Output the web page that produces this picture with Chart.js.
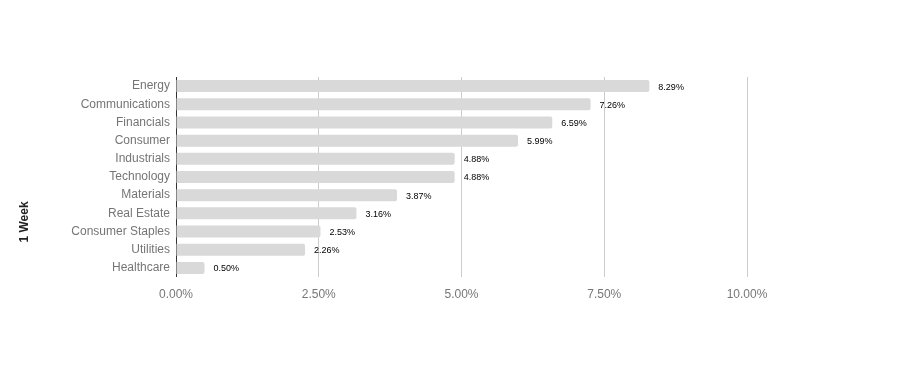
<!DOCTYPE html>
<html>
<head>
<meta charset="utf-8">
<script src="https://cdn.jsdelivr.net/npm/chart.js@4"></script>
<style>
  body { margin: 0; background: #fff; }
  #wrap { width: 924px; height: 391px; }
</style>
</head>
<body>
<div id="wrap"><canvas id="sectorChart" width="924" height="391"></canvas></div>
<script>
const sectors = ['Energy', 'Communications', 'Financials', 'Consumer', 'Industrials', 'Technology', 'Materials', 'Real Estate', 'Consumer Staples', 'Utilities', 'Healthcare'];
const weekReturns = [8.29, 7.26, 6.59, 5.99, 4.88, 4.88, 3.87, 3.16, 2.53, 2.26, 0.50];
const xTicks = [0, 2.5, 5, 7.5, 10];
const axisTitle = '1 Week';

// value labels at the end of each bar + the rotated series title
const barLabels = {
    id: 'barLabels',
    afterDatasetsDraw(chart) {
        const ctx = chart.ctx;
        const meta = chart.getDatasetMeta(0);
        ctx.save();
        ctx.font = '9px "Liberation Sans", Arial, sans-serif';
        ctx.fillStyle = '#000';
        ctx.textBaseline = 'middle';
        meta.data.forEach((bar, i) => {
            ctx.fillText(weekReturns[i].toFixed(2) + '%', bar.x + 9, bar.y + 1);
        });
        ctx.restore();

        ctx.save();
        ctx.font = 'bold 12px "Liberation Sans", Arial, sans-serif';
        ctx.fillStyle = '#222';
        ctx.textAlign = 'center';
        ctx.textBaseline = 'middle';
        ctx.translate(25, 222);
        ctx.rotate(-Math.PI / 2);
        ctx.fillText(axisTitle, 0, 0);
        ctx.restore();
    }
};

var sectorCtx = document.getElementById('sectorChart').getContext('2d');
var sectorChart = new Chart(sectorCtx, {
    type: 'bar',
    data: {
        labels: sectors,
        datasets: [{
            data: weekReturns,
            backgroundColor: '#d9d9d9',
            borderRadius: 2,
            borderSkipped: 'start',
            barPercentage: 0.66,
            categoryPercentage: 1
        }]
    },
    options: {
        indexAxis: 'y',
        responsive: false,
        animation: false,
        layout: { padding: { left: 18, right: 177, top: 77, bottom: 0 } },
        plugins: {
            legend: { display: false },
            tooltip: { enabled: false }
        },
        scales: {
            x: {
                min: 0,
                max: 10,
                afterBuildTicks: (scale) => { scale.ticks = xTicks.map(v => ({ value: v })); },
                afterFit: (scale) => { scale.height = 114; },
                border: { display: false },
                grid: {
                    color: (c) => c.index === 0 ? '#333' : '#cccccc',
                    drawTicks: false
                },
                ticks: {
                    padding: 10,
                    color: '#777',
                    font: { family: '"Liberation Sans", Arial, sans-serif', size: 12 },
                    callback: (v) => Number(v).toFixed(2) + '%'
                }
            },
            y: {
                afterFit: (scale) => { scale.width = 158; },
                border: { display: false },
                grid: { display: false, tickLength: 0 },
                ticks: {
                    padding: 6,
                    color: '#757575',
                    font: { family: '"Liberation Sans", Arial, sans-serif', size: 12 }
                }
            }
        }
    },
    plugins: [barLabels]
});
</script>
</body>
</html>
